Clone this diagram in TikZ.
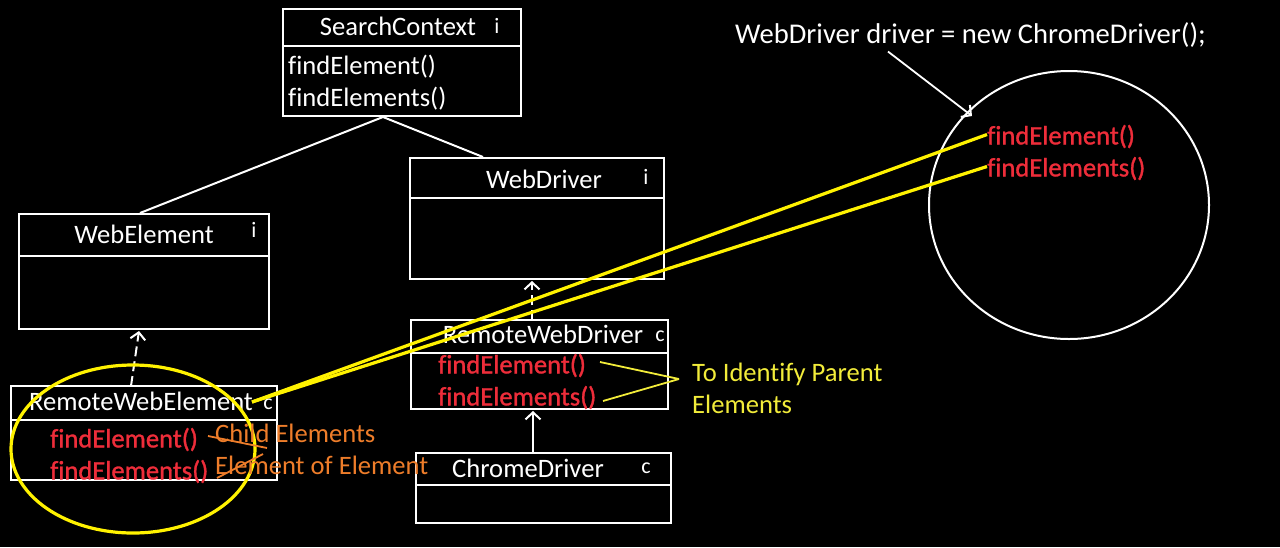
\documentclass[tikz,border=0pt]{standalone}
\usepackage{fontspec}
\setmainfont[Ligatures=NoCommon]{Carlito}
\newfontfamily\redfont[Ligatures=NoCommon,FakeBold=1.2]{Carlito}
\usetikzlibrary{arrows.meta,calc}
\definecolor{redtxt}{HTML}{EE2D3A}
\definecolor{orangetxt}{HTML}{EE7D2A}
\definecolor{yel}{HTML}{FFF200}
\definecolor{yeltxt}{HTML}{F2EC3A}
\tikzset{
  umlbox/.style={draw=white, line width=2pt, rectangle, inner sep=0pt, outer sep=0pt, anchor=north west},
  divider/.style={draw=white, line width=2pt},
  txt/.style={inner sep=0pt, yshift=-6pt},
  title/.style={txt, text=white, anchor=mid},
  tag/.style={txt, text=white, anchor=mid, font=\fontsize{22}{24}\selectfont},
  wmeth/.style={txt, text=white, anchor=mid west},
  rmeth/.style={txt, text=redtxt, anchor=mid west, font=\redfont\fontsize{26.6}{30}\selectfont},
  otxt/.style={txt, text=orangetxt, anchor=mid west},
  ytxt/.style={txt, text=yeltxt, anchor=mid west},
  wline/.style={draw=white, line width=2pt},
  inherit/.style={draw=white, line width=2pt, dash pattern=on 10pt off 5pt, -{Straight Barb[length=7pt,width=15pt,line width=2pt]}},
  solidarrow/.style={draw=white, line width=2pt, -{Straight Barb[length=7pt,width=15pt,line width=2pt]}},
  yline/.style={draw=yel, line width=3.2pt},
  ythin/.style={draw=yeltxt, line width=1.8pt},
  oline/.style={draw=orangetxt, line width=1.8pt},
}
\begin{document}
\begin{tikzpicture}[x=1pt,y=-1pt,font=\fontsize{26.6}{30}\selectfont]
\fill[black] (0,0) rectangle (1280,547);
\useasboundingbox (0,0) rectangle (1280,547);

% boxes
\node[umlbox, minimum width=238pt, minimum height=107pt] (sc) at (283,9) {};
\draw[divider] ($(sc.north west)+(0,37)$) -- ($(sc.north east)+(0,37)$);
\node[title] (sct) at (398,27) {SearchContext};
\node[tag] (sci) at (497,25) {i};
\node[wmeth] (scm1) at (288,66) {findElement()};
\node[wmeth] (scm2) at (288,98) {findElements()};

\node[umlbox, minimum width=254pt, minimum height=121pt] (wd) at (410,158) {};
\draw[divider] ($(wd.north west)+(0,40)$) -- ($(wd.north east)+(0,40)$);
\node[title] (wdt) at (544,180) {WebDriver};
\node[tag] (wdi) at (646,176) {i};

\node[umlbox, minimum width=250pt, minimum height=115pt] (we) at (19,214) {};
\draw[divider] ($(we.north west)+(0,42)$) -- ($(we.north east)+(0,42)$);
\node[title] (wet) at (144,235) {WebElement};
\node[tag] (wei) at (254,229) {i};

\node[umlbox, minimum width=266pt, minimum height=94pt] (rwe) at (11,386) {};
\draw[divider] ($(rwe.north west)+(0,34)$) -- ($(rwe.north east)+(0,34)$);
\node[title] (rwet) at (141,402) {RemoteWebElement};
\node[tag] (rwec) at (268,401) {c};
\node[rmeth] (rwem1) at (50,439) {findElement()};
\node[rmeth] (rwem2) at (50,471) {findElements()};

\node[umlbox, minimum width=257pt, minimum height=89pt] (rwd) at (411,320) {};
\draw[divider] ($(rwd.north west)+(0,33)$) -- ($(rwd.north east)+(0,33)$);
\node[title] (rwdt) at (543,335) {RemoteWebDriver};
\node[tag] (rwdc) at (660,333) {c};
\node[rmeth] (rwdm1) at (438,365) {findElement()};
\node[rmeth] (rwdm2) at (438,397) {findElements()};

\node[umlbox, minimum width=255pt, minimum height=70pt] (cd) at (416,453) {};
\draw[divider] ($(cd.north west)+(0,32)$) -- ($(cd.north east)+(0,32)$);
\node[title] (cdt) at (528,469) {ChromeDriver};
\node[tag] (cdc) at (646,465) {c};

% hierarchy connectors
\coordinate (scb) at ($(sc.south west)+(100,1)$);
\draw[wline] (scb) -- ($(we.north west)+(121,-1)$);
\draw[wline] (scb) -- ($(wd.north west)+(73,-1)$);
\draw[inherit] ($(rwe.north west)+(120,0)$) -- ($(we.south west)+(120,2)$);
\draw[inherit] ($(rwd.north west)+(121,0)$) -- ($(wd.south west)+(122,2)$);
\draw[solidarrow] ($(cd.north west)+(117,0)$) -- ($(rwd.south west)+(122,2)$);

% driver declaration and circle
\node[txt, text=white, anchor=mid west, font=\fontsize{28.6}{32}\selectfont] (decl) at (735,35) {WebDriver driver = new ChromeDriver();};
\draw[white, line width=2pt] (1069,205) ellipse [x radius=140, y radius=134];
\node[rmeth] (c1) at (987,136) {findElement()};
\node[rmeth] (c2) at (987,168) {findElements()};
\draw[solidarrow, line width=1.8pt] ($(decl.south west)+(153,4)$) -- (972,116);

% yellow highlight
\draw[yel, line width=3.2pt] (133,449) ellipse [x radius=122, y radius=84];
\coordinate (yst) at (252,402);
\draw[yline] (yst) -- ($(c1.west)+(0,-2)$);
\draw[yline] (yst) -- ($(c2.west)+(0,-2)$);

% orange annotations
\node[otxt] (ch) at (215,434) {Child Elements};
\node[otxt] (eoe) at (215,466) {Element of Element};
\coordinate (o1a) at (208,436);
\coordinate (o1b) at (267,448);
\coordinate (o2a) at (217,478);
\coordinate (o2b) at (263,454);
\draw[oline] (o1a) -- (o1b);
\draw[oline] (o2a) -- (o2b);

% yellow annotation
\node[ytxt] (tip1) at (692,373) {To Identify Parent};
\node[ytxt] (tip2) at (692,405) {Elements};
\coordinate (yj) at (679,379);
\coordinate (ya) at (600,362);
\coordinate (yb) at (603,401);
\draw[ythin] (ya) -- (yj);
\draw[ythin] (yb) -- (yj);
\end{tikzpicture}
\end{document}
